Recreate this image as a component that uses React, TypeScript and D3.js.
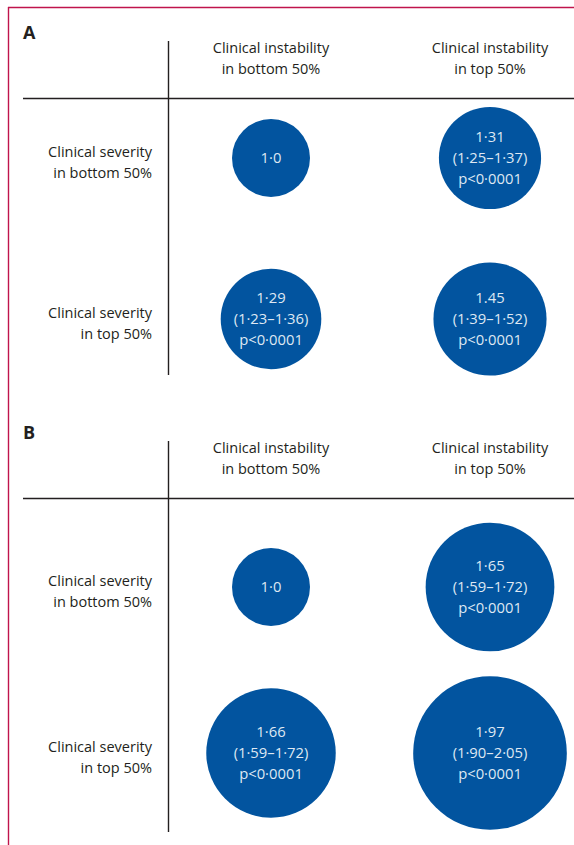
import React from "react";
import * as d3 from "d3";

const panelLetters = ["A", "B"];
const colHeaders = [["Clinical instability", "in bottom 50%"], ["Clinical instability", "in top 50%"]];
const rowHeaders = [["Clinical severity", "in bottom 50%"], ["Clinical severity", "in top 50%"]];
const colKeys = ["instabilityBottom", "instabilityTop"];
const rowKeys = ["severityBottom", "severityTop"];

// order: [row0col0, row0col1, row1col0, row1col1]
const panelAValues = [1.0, 1.31, 1.29, 1.45];
const panelAEstimates = ["1·0", "1·31", "1·29", "1.45"];
const panelACIs = ["", "(1·25–1·37)", "(1·23–1·36)", "(1·39–1·52)"];
const panelAP = ["", "p<0·0001", "p<0·0001", "p<0·0001"];

const panelBValues = [1.0, 1.65, 1.66, 1.97];
const panelBEstimates = ["1·0", "1·65", "1·66", "1·97"];
const panelBCIs = ["", "(1·59–1·72)", "(1·59–1·72)", "(1·90–2·05)"];
const panelBP = ["", "p<0·0001", "p<0·0001", "p<0·0001"];

const W = 574;
const H = 845;
const FONT = "'Open Sans', 'Noto Sans', sans-serif";
const INK = "#231f20";
const BLUE = "#02549f";
const TEXTC = "#dfe8f3";
const FRAME = "#c0144c";

const panelsLayout = [
  { top: 0, rows: [158, 319], vBottom: 375, values: panelAValues, est: panelAEstimates, ci: panelACIs, p: panelAP },
  { top: 400, rows: [587, 753], vBottom: 832, values: panelBValues, est: panelBEstimates, ci: panelBCIs, p: panelBP },
];

const x = d3.scalePoint<string>().domain(colKeys).range([271, 490]);
const r = d3.scaleLinear().domain([0, 1]).range([0, 39]);

function Panel({ idx }: { idx: number }) {
  const L = panelsLayout[idx];
  const y = d3.scalePoint<string>().domain(rowKeys).range(L.rows as [number, number]);
  const cells = rowKeys.flatMap((rk, ri) => colKeys.map((ck, ci) => ({ rk, ck, i: ri * 2 + ci })));
  return (
    <g>
      <text x={23} y={L.top + 38.5} fontFamily={FONT} fontWeight={700} fontSize={18} fill={INK}>
        {panelLetters[idx]}
      </text>
      <line x1={23} x2={W} y1={L.top + 98.5} y2={L.top + 98.5} stroke={INK} strokeWidth={1.4} />
      <line x1={168.5} x2={168.5} y1={L.top + 41} y2={L.vBottom} stroke={INK} strokeWidth={1.4} />
      {colKeys.map((ck, ci) => (
        <text key={ck} x={x(ck)} textAnchor="middle" fontFamily={FONT} fontSize={14.5} fill={INK}>
          {colHeaders[ci].map((t, li) => (
            <tspan key={li} x={x(ck)} y={L.top + 53 + li * 21}>{t}</tspan>
          ))}
        </text>
      ))}
      {rowKeys.map((rk, ri) => (
        <text key={rk} textAnchor="end" fontFamily={FONT} fontSize={14.5} fill={INK}>
          {rowHeaders[ri].map((t, li) => (
            <tspan key={li} x={152} y={(y(rk) as number) - 1 + li * 21}>{t}</tspan>
          ))}
        </text>
      ))}
      {cells.map((c) => {
        const cx = x(c.ck) as number;
        const cy = y(c.rk) as number;
        const lines = [L.est[c.i], L.ci[c.i], L.p[c.i]].filter((s) => s !== "");
        const n = lines.length;
        return (
          <g key={c.i}>
            <circle cx={cx} cy={cy} r={r(L.values[c.i])} fill={BLUE} />
            <text textAnchor="middle" fontFamily={FONT} fontSize={14.8} fill={TEXTC}>
              {lines.map((t, li) => (
                <tspan key={li} x={cx} y={cy + 5 + (li - (n - 1) / 2) * 21}>{t}</tspan>
              ))}
            </text>
          </g>
        );
      })}
    </g>
  );
}

export default function App() {
  return (
    <svg width={W} height={H} viewBox={`0 0 ${W} ${H}`} style={{ position: "absolute", left: 0, top: 0, background: "#fff" }}>
      <rect x={0} y={0} width={W} height={H} fill="#fff" />
      <line x1={8} x2={W} y1={7.5} y2={7.5} stroke={FRAME} strokeWidth={1.4} />
      <line x1={8.5} x2={8.5} y1={7} y2={H} stroke={FRAME} strokeWidth={1.4} />
      <Panel idx={0} />
      <Panel idx={1} />
    </svg>
  );
}
